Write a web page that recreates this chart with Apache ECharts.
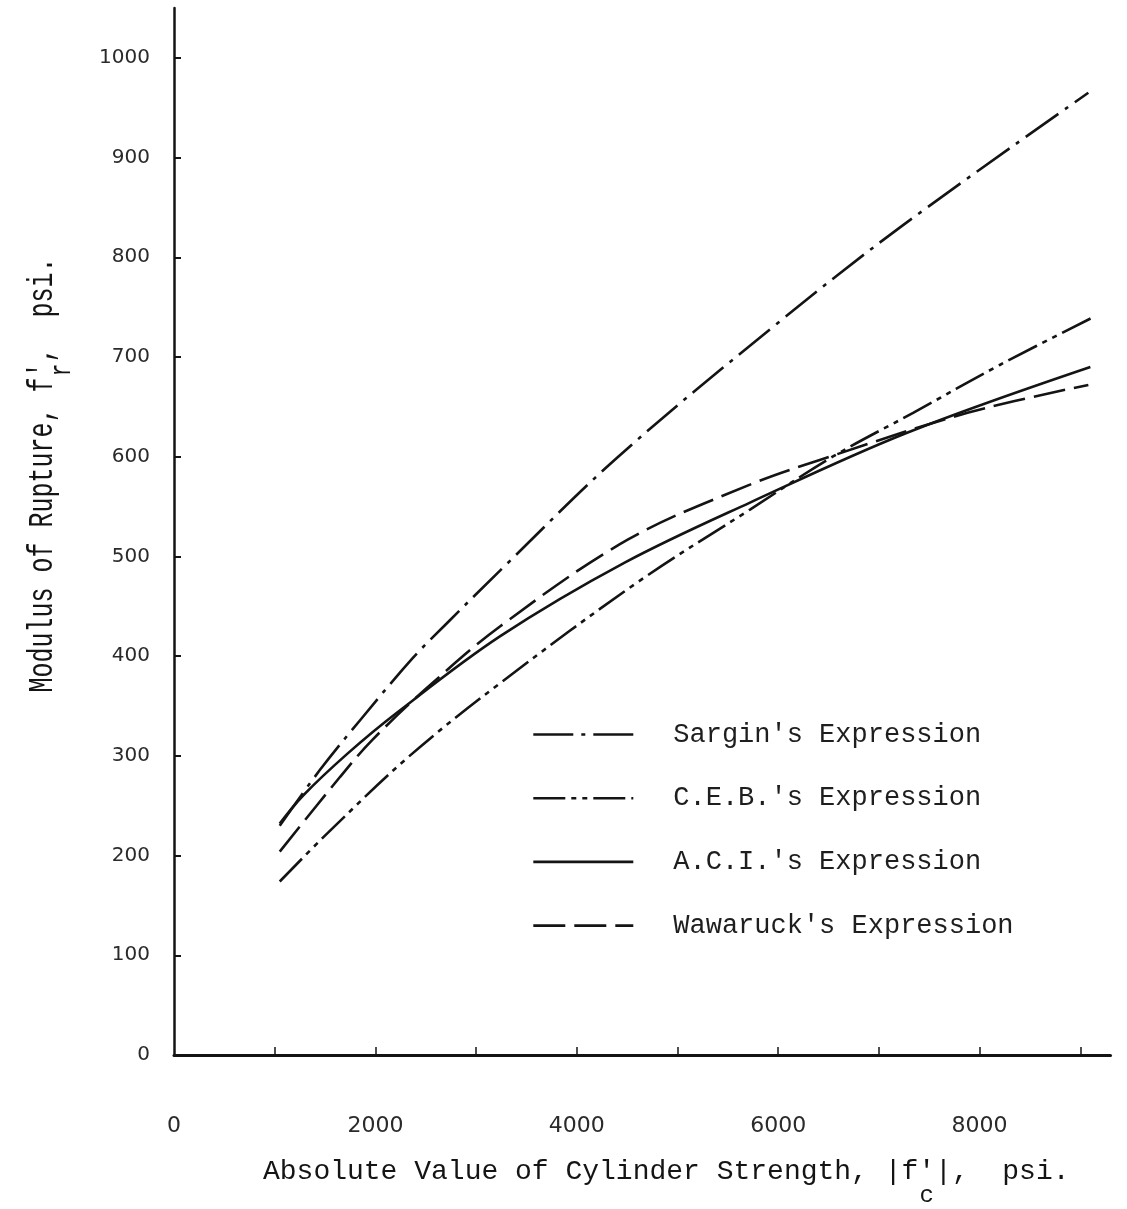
<!DOCTYPE html>
<html>
<head>
<meta charset="utf-8">
<script src="https://cdn.jsdelivr.net/npm/echarts@6/dist/echarts.min.js"></script>
<style>
  html, body { margin: 0; padding: 0; background: #fff; }
  #chart { width: 1127px; height: 1209px; }
</style>
</head>
<body>
<div id="chart"></div>
<script>
// Cylinder strength |f'c| (psi) and modulus of rupture f_r (psi) for each expression
const sarginX = [1050, 1450, 1850, 2370, 2710, 3240, 4400, 5970, 7210, 9080];
const sarginY = [230, 286, 336, 398, 433, 486, 599, 732, 830, 965];

const cebX = [1050, 1530, 2340, 3240, 4630, 5720, 6540, 7340, 8200, 9130];
const cebY = [174, 223, 300, 373, 476, 547, 600, 644, 692, 740];

const aciX = [1050, 1280, 1720, 2210, 3240, 4480, 5720, 7280, 9100];
const aciY = [232, 260, 302, 343, 420, 494, 554, 624, 690];

const wawaruckX = [1050, 1650, 1970, 2510, 3240, 4510, 5720, 6420, 7880, 9080];
const wawaruckY = [204, 279, 316, 368, 430, 517, 572, 597, 644, 672];

const seriesNames = ["Sargin's Expression", "C.E.B.'s Expression", "A.C.I.'s Expression", "Wawaruck's Expression"];

// axis ticks and labels
const xTickValues = [1000, 2000, 3000, 4000, 5000, 6000, 7000, 8000, 9000];
const xLabelValues = [0, 2000, 4000, 6000, 8000];
const yTickValues = [100, 200, 300, 400, 500, 600, 700, 800, 900, 1000];
const yLabelValues = [0, 100, 200, 300, 400, 500, 600, 700, 800, 900, 1000];

const zip = (xs, ys) => xs.map((x, i) => [x, ys[i]]);
const plain = v => String(v);

const INK = '#141414';
const MONO = "'Liberation Mono', 'DejaVu Sans Mono', monospace";
const LETTER = "'DejaVu Sans', 'Noto Sans', sans-serif";

function curve(name, xs, ys, dash) {
  return {
    name: name,
    type: 'line',
    smooth: 0.35,
    symbol: 'none',
    data: zip(xs, ys),
    lineStyle: { color: INK, width: 2.6, type: dash, cap: 'butt' },
    itemStyle: { color: INK }
  };
}

const chart = echarts.init(document.getElementById('chart'), null, { renderer: 'canvas' });

// axis titles in a typewriter face; subscripts set under the prime
const xTitleSize = 28, xPitch = xTitleSize * 0.6, xTitleLeft = 263;
const yTitleSize = 25, yPitch = yTitleSize * 0.6;
const yTitle = "Modulus of Rupture, f',  psi.";
const yTitleW = yTitle.length * yPitch;

chart.setOption({
  animation: false,
  backgroundColor: '#fff',
  grid: { left: 174, top: 8, width: 936.5, height: 1047, outerBoundsMode: 'none' },
  xAxis: {
    type: 'value', min: 0, max: 9300, interval: 1000,
    splitLine: { show: false },
    axisLine: { lineStyle: { color: INK, width: 3 } },
    axisTick: { inside: true, length: 8, customValues: xTickValues, lineStyle: { color: INK, width: 1.5 } },
    axisLabel: {
      customValues: xLabelValues, margin: 60, formatter: plain,
      fontFamily: LETTER, fontSize: 22, color: '#2a2a2a'
    }
  },
  yAxis: {
    type: 'value', min: 0, max: 1050, interval: 100,
    splitLine: { show: false },
    axisLine: { lineStyle: { color: INK, width: 2.5 } },
    axisTick: { inside: true, length: 7, customValues: yTickValues, lineStyle: { color: INK, width: 2 } },
    axisLabel: {
      customValues: yLabelValues, margin: 24, formatter: plain,
      fontFamily: LETTER, fontSize: 20, color: '#2a2a2a'
    }
  },
  legend: {
    orient: 'vertical', left: 527, top: 716,
    itemWidth: 100, itemHeight: 30, itemGap: 36.7,
    selectedMode: false,
    data: seriesNames,
    itemStyle: { color: 'rgba(0,0,0,0)', borderWidth: 0, opacity: 0 },
    lineStyle: { width: 2.6, color: INK },
    textStyle: { fontFamily: MONO, fontSize: 27, color: '#1e1e1e', padding: [0, 0, 0, 35] }
  },
  series: [
    curve(seriesNames[0], sarginX, sarginY, [40, 8, 4, 8]),
    curve(seriesNames[1], cebX, cebY, [32, 6, 5, 6, 5, 6]),
    curve(seriesNames[2], aciX, aciY, 'solid'),
    curve(seriesNames[3], wawaruckX, wawaruckY, [32, 9])
  ],
  graphic: [
    {
      type: 'text', x: xTitleLeft, y: 1172,
      style: { text: "Absolute Value of Cylinder Strength, |f'|,  psi.", fill: INK,
               font: xTitleSize + 'px ' + MONO, align: 'left', verticalAlign: 'middle' }
    },
    {
      type: 'text', x: xTitleLeft + 39.5 * xPitch, y: 1196,
      style: { text: 'c', fill: INK, font: '24px ' + MONO, align: 'center', verticalAlign: 'middle' }
    },
    {
      type: 'group', x: 43, y: 475, rotation: Math.PI / 2, scaleY: 1.4,
      children: [
        {
          type: 'text', x: 0, y: 0,
          style: { text: yTitle, fill: INK, font: yTitleSize + 'px ' + MONO, align: 'center', verticalAlign: 'middle' }
        },
        {
          type: 'text', x: -yTitleW / 2 + 21.5 * yPitch, y: 14,
          style: { text: 'r', fill: INK, font: '21px ' + MONO, align: 'center', verticalAlign: 'middle' }
        }
      ]
    }
  ]
});
</script>
</body>
</html>
